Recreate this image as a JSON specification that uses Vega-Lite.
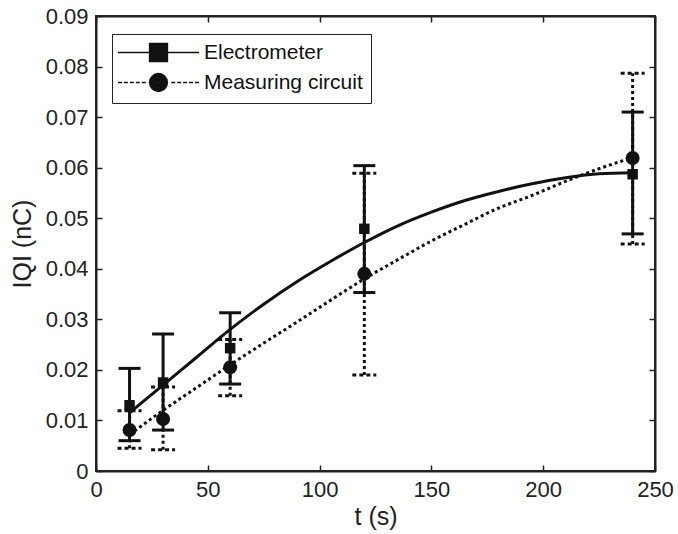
{
  "$schema": "https://vega.github.io/schema/vega-lite/v6.json",
  "width": 559,
  "height": 455,
  "autosize": {"type": "none"},
  "padding": {"left": 96, "top": 16, "right": 23, "bottom": 63},
  "background": "white",
  "datasets": {
    "curves": [
      {"series": "Electrometer", "t": 15, "q": 0.0115},
      {"series": "Electrometer", "t": 30, "q": 0.0170},
      {"series": "Electrometer", "t": 45, "q": 0.0225},
      {"series": "Electrometer", "t": 60, "q": 0.0280},
      {"series": "Electrometer", "t": 75, "q": 0.0330},
      {"series": "Electrometer", "t": 90, "q": 0.0375},
      {"series": "Electrometer", "t": 105, "q": 0.0415},
      {"series": "Electrometer", "t": 120, "q": 0.0452},
      {"series": "Electrometer", "t": 135, "q": 0.0485},
      {"series": "Electrometer", "t": 150, "q": 0.0512},
      {"series": "Electrometer", "t": 165, "q": 0.0535},
      {"series": "Electrometer", "t": 180, "q": 0.0553},
      {"series": "Electrometer", "t": 195, "q": 0.0568},
      {"series": "Electrometer", "t": 210, "q": 0.0580},
      {"series": "Electrometer", "t": 225, "q": 0.0588},
      {"series": "Electrometer", "t": 240, "q": 0.0590},
      {"series": "Measuring circuit", "t": 15, "q": 0.0072},
      {"series": "Measuring circuit", "t": 30, "q": 0.0120},
      {"series": "Measuring circuit", "t": 45, "q": 0.0165},
      {"series": "Measuring circuit", "t": 60, "q": 0.0210},
      {"series": "Measuring circuit", "t": 75, "q": 0.0253},
      {"series": "Measuring circuit", "t": 90, "q": 0.0295},
      {"series": "Measuring circuit", "t": 105, "q": 0.0338},
      {"series": "Measuring circuit", "t": 120, "q": 0.0380},
      {"series": "Measuring circuit", "t": 135, "q": 0.0418},
      {"series": "Measuring circuit", "t": 150, "q": 0.0455},
      {"series": "Measuring circuit", "t": 165, "q": 0.0488},
      {"series": "Measuring circuit", "t": 180, "q": 0.0520},
      {"series": "Measuring circuit", "t": 195, "q": 0.0545},
      {"series": "Measuring circuit", "t": 210, "q": 0.0573},
      {"series": "Measuring circuit", "t": 225, "q": 0.0598},
      {"series": "Measuring circuit", "t": 240, "q": 0.0620}
    ],
    "points": [
      {"series": "Electrometer", "t": 15, "q": 0.0130, "lo": 0.0060, "hi": 0.0203},
      {"series": "Electrometer", "t": 30, "q": 0.0175, "lo": 0.0081, "hi": 0.0271},
      {"series": "Electrometer", "t": 60, "q": 0.0243, "lo": 0.0172, "hi": 0.0313},
      {"series": "Electrometer", "t": 120, "q": 0.0479, "lo": 0.0353, "hi": 0.0604},
      {"series": "Electrometer", "t": 240, "q": 0.0587, "lo": 0.0469, "hi": 0.0710},
      {"series": "Measuring circuit", "t": 15, "q": 0.0081, "lo": 0.0045, "hi": 0.0119},
      {"series": "Measuring circuit", "t": 30, "q": 0.0103, "lo": 0.0042, "hi": 0.0166},
      {"series": "Measuring circuit", "t": 60, "q": 0.0205, "lo": 0.0149, "hi": 0.0260},
      {"series": "Measuring circuit", "t": 120, "q": 0.0390, "lo": 0.0190, "hi": 0.0589},
      {"series": "Measuring circuit", "t": 240, "q": 0.0619, "lo": 0.0449, "hi": 0.0787}
    ]
  },
  "config": {
    "view": {"stroke": "#222", "strokeWidth": 2},
    "font": "Liberation Sans",
    "axis": {
      "grid": false,
      "domainColor": "#222",
      "domainWidth": 2,
      "tickColor": "#222",
      "tickWidth": 1.5,
      "tickSize": -6,
      "labelFont": "Liberation Sans",
      "labelFontSize": 22,
      "labelColor": "#222",
      "labelFlush": false,
      "labelOverlap": false,
      "titleFont": "Liberation Sans",
      "titleFontSize": 25,
      "titleFontWeight": "normal",
      "titleColor": "#222"
    }
  },
  "resolve": {"axis": {"x": "independent", "y": "independent"}},
  "layer": [
    {
      "data": {"name": "curves"},
      "transform": [{"filter": "datum.series === 'Electrometer'"}],
      "mark": {"type": "line", "color": "#111", "strokeWidth": 3, "interpolate": "monotone"},
      "encoding": {
        "x": {"field": "t", "type": "quantitative", "scale": {"domain": [0, 250], "nice": false, "zero": false},
              "axis": {"orient": "bottom", "title": "t (s)", "values": [0, 50, 100, 150, 200, 250], "labelPadding": 14, "titlePadding": 4}},
        "y": {"field": "q", "type": "quantitative", "scale": {"domain": [0, 0.09], "nice": false},
              "axis": {"orient": "left", "title": "IQI (nC)", "values": [0, 0.01, 0.02, 0.03, 0.04, 0.05, 0.06, 0.07, 0.08, 0.09], "format": ".2~f", "labelPadding": 14, "titlePadding": 10}}
      }
    },
    {
      "data": {"name": "curves"},
      "transform": [{"filter": "datum.series === 'Measuring circuit'"}],
      "mark": {"type": "line", "color": "#111", "strokeWidth": 3, "strokeDash": [3, 3], "interpolate": "monotone"},
      "encoding": {
        "x": {"field": "t", "type": "quantitative",
              "axis": {"orient": "top", "title": null, "labels": false, "values": [0, 50, 100, 150, 200, 250]}},
        "y": {"field": "q", "type": "quantitative",
              "axis": {"orient": "right", "title": null, "labels": false, "values": [0, 0.01, 0.02, 0.03, 0.04, 0.05, 0.06, 0.07, 0.08, 0.09]}}
      }
    },
    {
      "data": {"name": "points"},
      "transform": [{"filter": "datum.series === 'Electrometer'"}],
      "mark": {"type": "rule", "color": "#111", "strokeWidth": 3},
      "encoding": {
        "x": {"field": "t", "type": "quantitative", "axis": null},
        "y": {"field": "lo", "type": "quantitative", "axis": null},
        "y2": {"field": "hi"}
      }
    },
    {
      "data": {"name": "points"},
      "transform": [{"filter": "datum.series === 'Measuring circuit'"}],
      "mark": {"type": "rule", "color": "#111", "strokeWidth": 3, "strokeDash": [3, 3]},
      "encoding": {
        "x": {"field": "t", "type": "quantitative", "axis": null},
        "y": {"field": "lo", "type": "quantitative", "axis": null},
        "y2": {"field": "hi"}
      }
    },
    {
      "data": {"name": "points"},
      "transform": [{"filter": "datum.series === 'Measuring circuit'"}, {"fold": ["lo", "hi"], "as": ["end", "qv"]}],
      "mark": {"type": "point", "shape": "M-1,0H1", "size": 576, "filled": false, "stroke": "#111", "strokeWidth": 3, "strokeDash": [4, 3], "opacity": 1},
      "encoding": {
        "x": {"field": "t", "type": "quantitative", "axis": null},
        "y": {"field": "qv", "type": "quantitative", "axis": null}
      }
    },
    {
      "data": {"name": "points"},
      "transform": [{"filter": "datum.series === 'Electrometer'"}, {"fold": ["lo", "hi"], "as": ["end", "qv"]}],
      "mark": {"type": "point", "shape": "M-1,0H1", "size": 484, "filled": false, "stroke": "#111", "strokeWidth": 3, "opacity": 1},
      "encoding": {
        "x": {"field": "t", "type": "quantitative", "axis": null},
        "y": {"field": "qv", "type": "quantitative", "axis": null}
      }
    },
    {
      "data": {"name": "points"},
      "transform": [{"filter": "datum.series === 'Electrometer'"}],
      "mark": {"type": "point", "shape": "square", "size": 110, "filled": true, "color": "#111", "opacity": 1},
      "encoding": {
        "x": {"field": "t", "type": "quantitative", "axis": null},
        "y": {"field": "q", "type": "quantitative", "axis": null}
      }
    },
    {
      "data": {"name": "points"},
      "transform": [{"filter": "datum.series === 'Measuring circuit'"}],
      "mark": {"type": "point", "shape": "circle", "size": 196, "filled": true, "color": "#111", "opacity": 1},
      "encoding": {
        "x": {"field": "t", "type": "quantitative", "axis": null},
        "y": {"field": "q", "type": "quantitative", "axis": null}
      }
    },
    {
      "data": {"name": "points"},
      "transform": [{"filter": "false"}],
      "mark": {"type": "point", "filled": false, "stroke": "#111", "strokeWidth": 1.3, "opacity": 1},
      "encoding": {
        "shape": {"field": "series", "type": "nominal",
                  "scale": {"domain": ["Electrometer", "Measuring circuit"],
                            "range": [
                              "M-4.5,0H4.5M-1,-1H1V1H-1ZM-0.88,-0.88H0.88V0.88H-0.88ZM-0.76,-0.76H0.76V0.76H-0.76ZM-0.64,-0.64H0.64V0.64H-0.64ZM-0.52,-0.52H0.52V0.52H-0.52ZM-0.4,-0.4H0.4V0.4H-0.4ZM-0.28,-0.28H0.28V0.28H-0.28ZM-0.16,-0.16H0.16V0.16H-0.16ZM-0.05,-0.05H0.05V0.05H-0.05Z",
                              "M-4.5,0H-4.06M-3.84,0H-3.4M-3.18,0H-2.74M-2.52,0H-2.08M-1.86,0H-1.42M1.42,0H1.86M2.08,0H2.52M2.74,0H3.18M3.4,0H3.84M4.06,0H4.5M-1,0A1,1 0 1,0 1,0A1,1 0 1,0 -1,0ZM-0.88,0A0.88,0.88 0 1,0 0.88,0A0.88,0.88 0 1,0 -0.88,0ZM-0.76,0A0.76,0.76 0 1,0 0.76,0A0.76,0.76 0 1,0 -0.76,0ZM-0.64,0A0.64,0.64 0 1,0 0.64,0A0.64,0.64 0 1,0 -0.64,0ZM-0.52,0A0.52,0.52 0 1,0 0.52,0A0.52,0.52 0 1,0 -0.52,0ZM-0.4,0A0.4,0.4 0 1,0 0.4,0A0.4,0.4 0 1,0 -0.4,0ZM-0.28,0A0.28,0.28 0 1,0 0.28,0A0.28,0.28 0 1,0 -0.28,0ZM-0.16,0A0.16,0.16 0 1,0 0.16,0A0.16,0.16 0 1,0 -0.16,0ZM-0.05,0A0.05,0.05 0 1,0 0.05,0A0.05,0.05 0 1,0 -0.05,0Z"
                            ]},
                  "legend": {"orient": "none", "legendX": 16, "legendY": 18, "title": null,
                             "padding": 8, "fillColor": "white", "strokeColor": "#222",
                             "symbolSize": 324, "symbolOffset": 28, "labelOffset": 35, "rowPadding": 5,
                             "symbolStrokeColor": "#111", "symbolStrokeWidth": 1.3,
                             "labelFont": "Liberation Sans", "labelFontSize": 21, "labelColor": "#111", "labelLimit": 400,
                             "encode": {
                               "legend": {"strokeWidth": {"value": 1.5}}
                             }}}
      }
    }
  ]
}
